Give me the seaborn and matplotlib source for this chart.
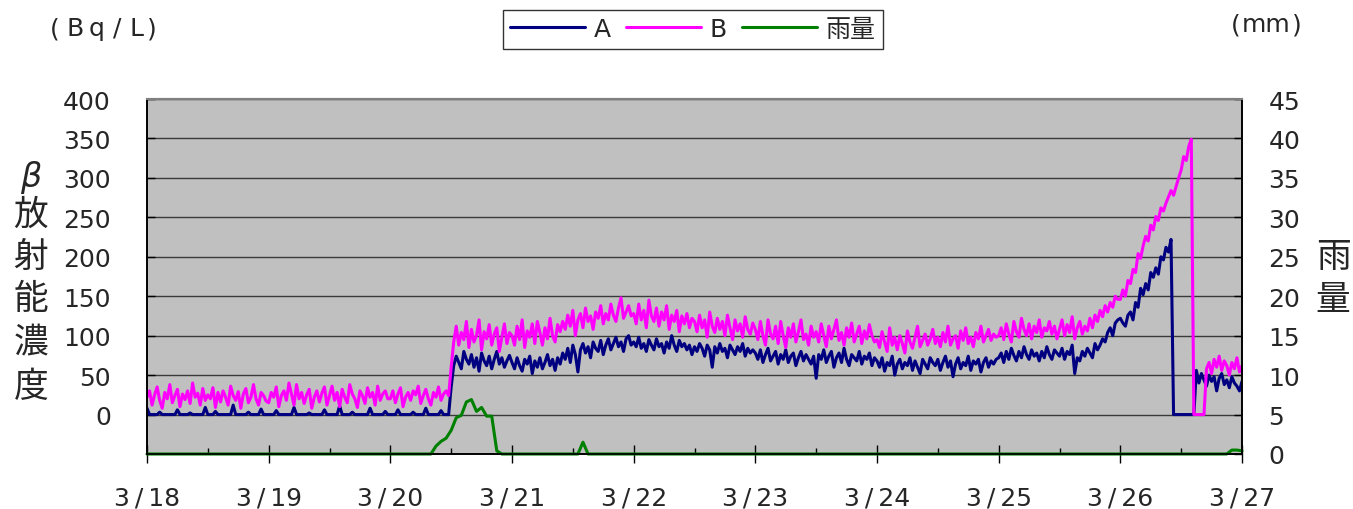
import numpy as np
import pandas as pd
import matplotlib
matplotlib.use("Agg")
import matplotlib.pyplot as plt
import seaborn as sns
from matplotlib.lines import Line2D

# ---------------- data (half-hourly readings) ----------------
day_labels = ["3/18", "3/19", "3/20", "3/21", "3/22", "3/23", "3/24", "3/25", "3/26", "3/27"]

a_0318 = [8, 0, 0, 0, 0, 3, 0, 0, 0, 0, 0, 0, 6, 0, 0, 0, 0, 2, 0, 0, 0, 0, 0, 9,
          0, 0, 0, 4, 0, 0, 0, 0, 0, 0, 12, 0, 0, 0, 0, 0, 3, 0, 0, 0, 0, 7, 0, 0]
a_0319 = [0, 0, 0, 5, 0, 0, 0, 0, 0, 0, 9, 0, 0, 0, 0, 0, 2, 0, 0, 0, 0, 0, 6, 0,
          0, 0, 0, 0, 11, 0, 0, 0, 0, 3, 0, 0, 0, 0, 0, 0, 8, 0, 0, 0, 0, 0, 4, 0]
a_0320 = [0, 0, 0, 6, 0, 0, 0, 0, 0, 3, 0, 0, 0, 0, 8, 0, 0, 0, 0, 0, 5, 0, 0, 0,
          35, 62, 74, 66, 58, 80, 70, 64, 76, 60, 72, 55, 78, 68, 62, 74, 58, 70, 80, 64, 72, 60, 68, 75]
a_0321 = [66, 58, 72, 62, 55, 70, 64, 74, 52, 68, 60, 72, 58, 66, 76, 62, 70, 56, 72, 64,
          78, 70, 84, 66, 88, 76, 54, 82, 90, 78, 86, 72, 92, 84, 80, 94, 76, 88, 96, 82,
          90, 98, 86, 92, 80, 96, 100, 88]
a_0322 = [92, 86, 98, 84, 90, 80, 95, 88, 82, 96, 86, 90, 78, 92, 84, 100, 88, 80, 94, 86, 90, 82, 88, 76,
          86, 80, 90, 84, 74, 88, 82, 60, 86, 78, 90, 80, 84, 72, 88, 82, 76, 86, 80, 90, 74, 84, 78, 82]
a_0323 = [78, 70, 82, 66, 76, 84, 68, 74, 80, 64, 76, 70, 82, 66, 74, 78, 62, 72, 80, 68, 76, 70, 64, 74,
          46, 76, 70, 82, 66, 74, 80, 60, 72, 78, 66, 84, 70, 62, 76, 72, 68, 80, 64, 74, 70, 78, 62, 72]
a_0324 = [68, 60, 72, 55, 66, 62, 74, 50, 64, 70, 58, 66, 62, 72, 56, 68, 60, 52, 70, 64, 58, 72, 66, 62,
          70, 56, 66, 74, 60, 68, 48, 64, 72, 58, 66, 62, 74, 56, 68, 64, 70, 54, 66, 72, 60, 68, 64, 70]
a_0325 = [72, 78, 66, 80, 70, 84, 75, 68, 80, 72, 86, 76, 70, 82, 74, 78, 68, 80, 72, 86, 76, 70, 82, 78,
          74, 84, 70, 80, 76, 88, 52, 72, 68, 80, 74, 84, 78, 72, 90, 82, 88, 96, 92, 104, 110, 100, 116, 120]
a_0326 = [122, 116, 112, 126, 130, 120, 142, 136, 160, 152, 166, 158, 180, 174, 186, 178, 200, 196, 212, 206,
          222, 0, 0, 0, 0, 0, 0, 0, 0, 0, 56, 40, 52, 44, 36, 50, 42, 48, 30, 46,
          52, 38, 44, 34, 48, 40, 36, 30, 42]

b_0318 = [22, 30, 12, 25, 35, 18, 8, 28, 20, 38, 15, 24, 32, 10, 26, 19, 30, 14, 40, 22, 27, 12, 33, 18,
          25, 20, 34, 9, 28, 16, 30, 22, 12, 36, 24, 18, 29, 8, 26, 33, 15, 22, 38, 20, 12, 28, 24, 17]
b_0319 = [15, 28, 22, 35, 10, 24, 30, 18, 40, 26, 12, 38, 20, 28, 14, 25, 32, 8, 22, 30, 16, 27, 35, 12,
          24, 36, 18, 28, 10, 32, 22, 15, 38, 26, 20, 9, 30, 24, 14, 34, 22, 28, 12, 36, 18, 26, 30, 20]
b_0320 = [20, 30, 15, 26, 34, 10, 22, 28, 18, 30, 25, 36, 14, 24, 32, 20, 12, 28, 22, 35, 18, 26, 30, 24,
          60, 92, 112, 88, 104, 95, 118, 85, 108, 92, 100, 120, 82, 105, 96, 114, 88, 102, 110, 80, 98, 115, 90, 104]
b_0321 = [100, 88, 112, 95, 120, 85, 106, 98, 115, 90, 118, 104, 88, 110, 96, 122, 100, 92, 114, 105,
          118, 108, 126, 112, 132, 100, 120, 128, 110, 135, 118, 125, 108, 130, 122, 138, 115, 128, 120, 140,
          126, 118, 135, 148, 122, 130, 138, 125]
b_0322 = [128, 115, 140, 120, 132, 110, 145, 125, 118, 135, 112, 130, 120, 138, 108, 126, 118, 132, 105, 125, 115, 128, 110, 122,
          118, 105, 126, 110, 120, 98, 130, 112, 104, 122, 108, 118, 100, 126, 110, 95, 120, 106, 115, 98, 124, 108, 102, 116]
b_0323 = [108, 95, 118, 100, 88, 120, 102, 96, 112, 90, 118, 100, 85, 110, 98, 115, 92, 105, 120, 95, 102, 88, 112, 98,
          105, 92, 115, 100, 86, 112, 96, 108, 120, 94, 104, 88, 110, 98, 116, 92, 102, 112, 90, 106, 96, 114, 100, 92]
b_0324 = [95, 85, 105, 92, 80, 110, 88, 98, 82, 100, 90, 78, 106, 92, 84, 98, 112, 86, 94, 102, 88, 96, 108, 90,
          98, 86, 104, 92, 112, 88, 96, 100, 84, 106, 94, 110, 90, 98, 86, 104, 96, 112, 92, 100, 108, 94, 102, 98]
b_0325 = [100, 110, 95, 115, 102, 92, 118, 105, 98, 122, 108, 100, 115, 96, 112, 104, 120, 98, 110, 106, 118, 102, 112, 96,
          108, 120, 100, 114, 104, 124, 96, 110, 118, 102, 112, 106, 122, 110, 126, 118, 132, 124, 138, 130, 142, 136, 150, 146]
b_0326 = [146, 158, 150, 170, 166, 184, 180, 204, 198, 214, 226, 220, 240, 234, 251, 246, 262, 258, 268, 276,
          284, 278, 289, 300, 310, 327, 322, 340, 349, 0, 0, 0, 0, 0, 58, 66, 52, 70, 60, 74,
          56, 68, 62, 50, 66, 58, 72, 54, 62]

# rainfall (mm, hourly): hour index counted from 3/18 00:00 -> value (all other hours 0)
rain_hours = [57, 58, 59, 60, 61, 62, 63, 64, 65, 66, 67, 68, 69, 86, 214, 215, 216]
rain_mm = [1.0, 1.6, 2.0, 3.0, 4.6, 4.9, 6.6, 6.9, 5.4, 5.9, 4.8, 4.8, 0.4, 1.5, 0.5, 0.5, 0.4]

# ---------------- build tables ----------------
a_vals = a_0318 + a_0319 + a_0320 + a_0321 + a_0322 + a_0323 + a_0324 + a_0325 + a_0326
b_vals = b_0318 + b_0319 + b_0320 + b_0321 + b_0322 + b_0323 + b_0324 + b_0325 + b_0326
n = len(a_vals)
t_days = np.arange(n) / 48.0
rain = np.zeros(9 * 24 + 1)
rain[rain_hours] = rain_mm
t_rain = np.arange(len(rain)) / 24.0

df = pd.concat([
    pd.DataFrame({"day": t_days, "value": a_vals, "series": "A"}),
    pd.DataFrame({"day": t_days, "value": b_vals, "series": "B"}),
], ignore_index=True)
df_rain = pd.DataFrame({"day": t_rain, "rain": rain})

colors = {"A": "#000080", "B": "#FF00FF"}
rain_color = "#008000"
LW = 2.2

# ---------------- style ----------------
sns.set_style("white")
plt.rcParams["font.family"] = ["DejaVu Sans", "Noto Sans CJK JP"]

W, H = 1353, 510
fig = plt.figure(figsize=(W / 100, H / 100), dpi=100)
ax1 = fig.add_axes([147 / W, 1 - 455 / H, (1242 - 147) / W, (455 - 100) / H])
ax1.set_facecolor("#C0C0C0")

sns.lineplot(data=df, x="day", y="value", hue="series", palette=colors,
             hue_order=["A", "B"], estimator=None, sort=False, lw=LW,
             legend=False, ax=ax1)

ax2 = ax1.twinx()
sns.lineplot(data=df_rain, x="day", y="rain", color=rain_color, lw=LW,
             estimator=None, sort=False, legend=False, ax=ax2)
for ln in ax2.get_lines():
    ln.set_clip_on(False)

# axes ranges & ticks
ax1.set_xlim(0, 9)
ax1.set_ylim(-50, 400)
ax2.set_ylim(0, 45)

ax1.set_xticks(np.arange(10))
ax1.set_xticklabels([s.replace("/", "\u2009/\u2009") for s in day_labels], fontsize=18)
ax1.set_xticks(np.arange(0.5, 9, 1.0), minor=True)
ax1.set_yticks(np.arange(0, 401, 50))
ax1.set_yticklabels([str(v) for v in range(0, 401, 50)], fontsize=18)
ax2.set_yticks(np.arange(0, 46, 5))
ax2.set_yticklabels([str(v) for v in range(0, 46, 5)], fontsize=18)

ax1.tick_params(axis="x", which="major", direction="inout", length=13, width=1,
                color="black", pad=16, bottom=True)
ax1.tick_params(axis="x", which="minor", direction="in", length=4.5, width=1,
                color="black", bottom=True)
ax1.tick_params(axis="y", direction="in", length=6, width=1, color="black",
                pad=26, left=True)
ax2.tick_params(axis="y", direction="in", length=6, width=1, color="black",
                pad=19, right=True)

ax1.set_xlabel("")
ax1.set_ylabel("")
ax2.set_ylabel("")

# grid
ax1.set_axisbelow(True)
ax1.yaxis.grid(True, color="#3a3a3a", lw=1)
ax1.xaxis.grid(False)

for ax in (ax1, ax2):
    for side in ("left", "right", "bottom"):
        ax.spines[side].set_color("black")
        ax.spines[side].set_linewidth(1.2)
    ax.spines["top"].set_color("#808080")
    ax.spines["top"].set_linewidth(1.5)

# unit texts (glyphs spaced like the original)
for ch, xx in zip(["(", "B", "q", "/", "L", ")"], [55, 75, 97, 117, 137, 152]):
    fig.text(xx / W, 1 - 29 / H, ch, ha="center", va="center", fontsize=18)
for ch, xx in zip(["(", "mm", ")"], [1236, 1266, 1297]):
    fig.text(xx / W, 1 - 25 / H, ch, ha="center", va="center", fontsize=18)

fig.text(31 / W, 1 - 177 / H, "β", ha="center", va="center", fontsize=24,
         style="italic", family=["DejaVu Sans"])
for ch, yy in zip("放射能濃度", [215, 258, 300, 344, 388]):
    fig.text(31 / W, 1 - yy / H, ch, ha="center", va="center", fontsize=25,
             family=["Noto Sans CJK JP", "DejaVu Sans"])
for ch, yy in zip("雨量", [257, 301]):
    fig.text(1333 / W, 1 - yy / H, ch, ha="center", va="center", fontsize=25,
             family=["Noto Sans CJK JP", "DejaVu Sans"])

# legend
handles = [Line2D([], [], color=colors["A"], lw=LW),
           Line2D([], [], color=colors["B"], lw=LW),
           Line2D([], [], color=rain_color, lw=LW)]
leg = fig.legend(handles, ["A", "B", "雨量"], loc="center",
                 bbox_to_anchor=(693 / W, 1 - 30 / H), ncol=3, fontsize=18,
                 frameon=True, fancybox=False, edgecolor="black",
                 handlelength=3.0, handletextpad=0.35, columnspacing=0.6,
                 borderpad=0.3, borderaxespad=0)
leg.get_frame().set_linewidth(1.0)
for txt in leg.get_texts():
    txt.set_family(["DejaVu Sans", "Noto Sans CJK JP"])

fig.savefig("out.png", dpi=100)
